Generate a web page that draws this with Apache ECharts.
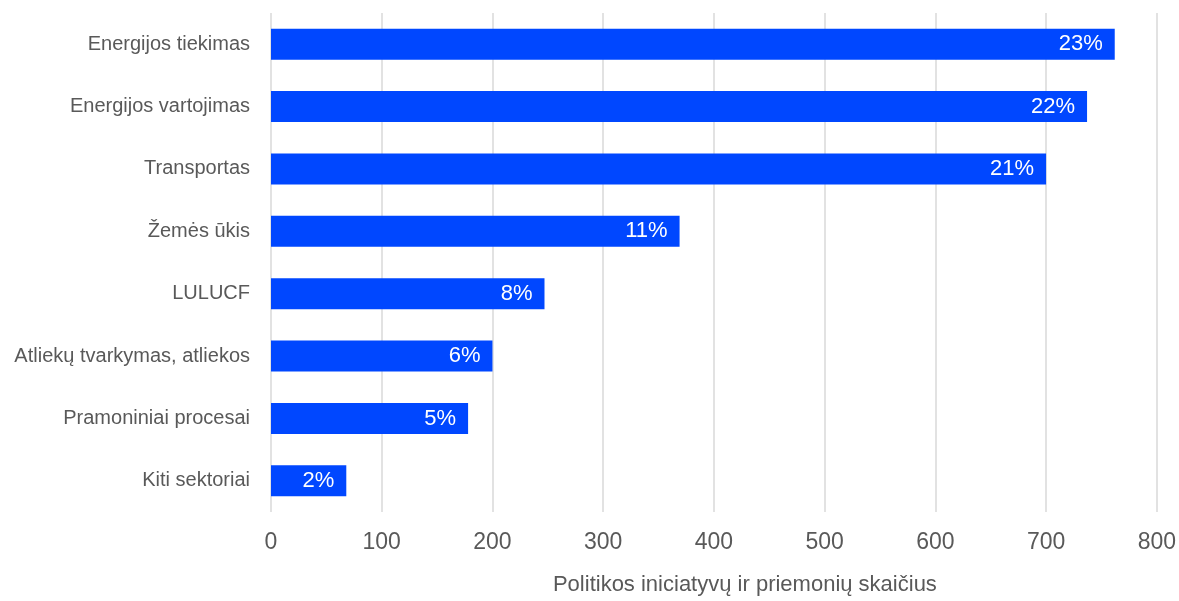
<!DOCTYPE html>
<html><head><meta charset="utf-8">
<script src="https://cdn.jsdelivr.net/npm/echarts@6/dist/echarts.min.js"></script>
<style>html,body{margin:0;padding:0;background:#fff}#c{width:1179px;height:601px}</style>
</head><body><div id="c"></div>
<script>
const categories = ["Energijos tiekimas","Energijos vartojimas","Transportas","Žemės ūkis","LULUCF","Atliekų tvarkymas, atliekos","Pramoniniai procesai","Kiti sektoriai"];
const counts = [762, 737, 700, 369, 247, 200, 178, 68];
const shareLabels = ["23%","22%","21%","11%","8%","6%","5%","2%"];
const xTicks = [0,100,200,300,400,500,600,700,800];
const axisTitle = "Politikos iniciatyvų ir priemonių skaičius";

const FONT = '"Liberation Sans", Arial, sans-serif';
const chart = echarts.init(document.getElementById('c'));
chart.setOption({
  animation: false,
  grid: {left: 271, right: 21, top: 13, bottom: 88, containLabel: false},
  xAxis: {
    type: 'value', min: xTicks[0], max: xTicks[xTicks.length-1], interval: 100,
    axisLine: {show: false}, axisTick: {show: false},
    splitLine: {show: true, lineStyle: {color: '#d9d9d9', width: 1.5}},
    axisLabel: {color: '#595959', fontSize: 23, fontFamily: FONT, margin: 19},
    name: axisTitle, nameLocation: 'middle', nameGap: 62,
    nameTextStyle: {color: '#595959', fontSize: 22, fontFamily: FONT, padding: [0,0,0,62]}
  },
  yAxis: {
    type: 'category', data: categories, inverse: true,
    axisLine: {show: false}, axisTick: {show: false},
    axisLabel: {color: '#595959', fontSize: 20, fontFamily: FONT, margin: 21}
  },
  series: [{
    type: 'bar', data: counts, barWidth: 31,
    itemStyle: {color: '#0047FF'},
    label: {show: true, position: 'insideRight', distance: 12, color: '#fff', fontSize: 22, fontFamily: FONT,
      formatter: p => shareLabels[p.dataIndex]}
  }]
});
</script></body></html>
